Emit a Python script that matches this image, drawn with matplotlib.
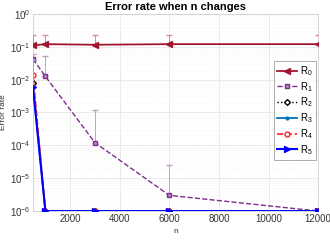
import matplotlib
matplotlib.use("Agg")
import matplotlib.pyplot as plt
import numpy as np

n_values = [500, 1000, 3000, 6000, 12000]
R0 = [0.11, 0.12, 0.115, 0.12, 0.12]
R0_err = [0.12, 0.11, 0.115, 0.11, 0.11]
R1 = [0.042, 0.0125, 1.2e-4, 3e-6, 1e-6]
R1_err = [0.02, 0.04, 1.05e-3, 2.3e-5, 0]
R2 = [0.008, 1e-6, 1e-6, 1e-6, 1e-6]
R3 = [0.0065, 1e-6, 1e-6, 1e-6, 1e-6]
R4 = [0.014, 1e-6, 1e-6, 1e-6, 1e-6]
R5 = [0.0058, 1e-6, 1e-6, 1e-6, 1e-6]
R5_err = [0.035, 0, 0, 0, 0]
labels = ["R$_0$", "R$_1$", "R$_2$", "R$_3$", "R$_4$", "R$_5$"]

plt.rcParams['font.family'] = ['Liberation Sans', 'DejaVu Sans']
plt.rcParams['mathtext.fontset'] = 'custom'
plt.rcParams['mathtext.rm'] = 'Liberation Sans'
plt.rcParams['mathtext.it'] = 'Liberation Sans'
fig = plt.figure(figsize=(3.3, 2.48), dpi=100)
ax = fig.add_axes([0.1, 0.149, 0.864, 0.795])

c0 = '#A2142F'
c1 = '#7E2F8E'
c3 = '#0072BD'

h0 = ax.errorbar(n_values, R0, yerr=[np.zeros(5), R0_err], color=c0, ecolor='#d98a9a',
                 elinewidth=0.7, capsize=2, marker='<', ms=4, lw=1.3, label=labels[0], zorder=3)
h1 = ax.errorbar(n_values, R1, yerr=[np.zeros(5), R1_err], color=c1, ecolor='#c49ccc',
                 elinewidth=0.7, capsize=2, marker='s', ms=3, mfc='#b98cc3', ls='--', lw=1.0,
                 label=labels[1], zorder=3)
h2, = ax.plot(n_values, R2, color='black', ls=':', marker='D', ms=3, mfc='white', lw=1.0,
              label=labels[2], zorder=4)
h3, = ax.plot(n_values, R3, color=c3, ls='-', marker='.', ms=4, lw=1.3, label=labels[3], zorder=4)
h4, = ax.plot(n_values, R4, color='#ff2020', ls='--', marker='o', ms=3.5, mfc='white', lw=1.2,
              label=labels[4], zorder=4)
h5 = ax.errorbar(n_values, R5, yerr=[np.zeros(5), R5_err], color='#0000ff', ecolor='#9999ff',
                 elinewidth=0.7, capsize=2, marker='>', ms=4, lw=1.5, label=labels[5], zorder=5)

ax.set_yscale('log')
ax.set_xlim(500, 12000)
ax.set_ylim(1e-6, 1)
ax.set_xticks([2000, 4000, 6000, 8000, 10000, 12000])
ax.grid(True, which='major', color='#e6e6e6', lw=0.6)
ax.grid(True, which='minor', color='#eeeeee', lw=0.4, ls=':')
ax.set_axisbelow(True)
for s in ax.spines.values():
    s.set_color('#d0d0d0')
    s.set_linewidth(0.6)
ax.tick_params(axis='both', which='both', labelsize=7, colors='#333333', length=0, pad=2)
ax.set_title('Error rate when n changes', fontsize=8, fontweight='bold', pad=3)
ax.set_xlabel('n', fontsize=6, color='#333333', labelpad=3)
ax.set_ylabel('Error rate', fontsize=6, color='#333333', labelpad=2)

leg = ax.legend([h0[0], h1[0], h2, h3, h4, h5[0]], labels, loc='upper right',
                bbox_to_anchor=(1.0, 0.77), fontsize=7, handlelength=2.0,
                frameon=True, fancybox=False, edgecolor='#888888', borderpad=0.3,
                labelspacing=0.2, handletextpad=0.4, borderaxespad=0.2)
leg.get_frame().set_linewidth(0.6)

fig.savefig('out.png', dpi=100)
